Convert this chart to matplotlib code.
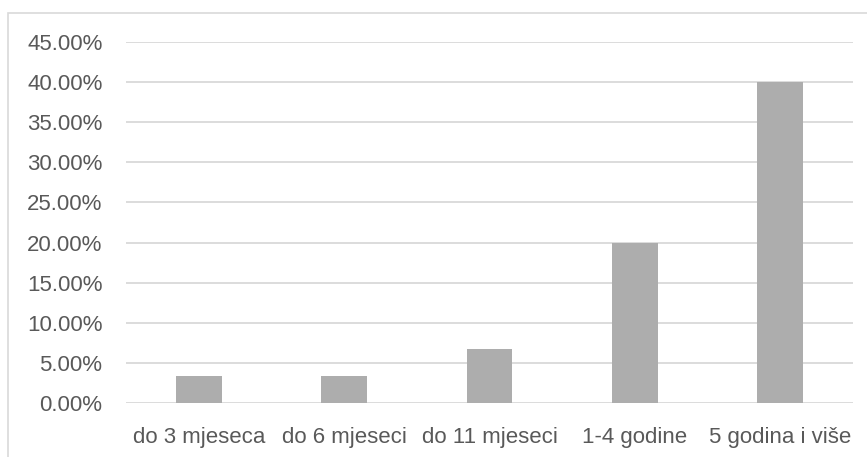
import matplotlib
matplotlib.use("Agg")
import matplotlib.pyplot as plt
from matplotlib.patches import Rectangle
from matplotlib.ticker import FuncFormatter

# podaci
kategorije = ["do 3 mjeseca", "do 6 mjeseci", "do 11 mjeseci", "1-4 godine", "5 godina i više"]
udjeli = [0.0333, 0.0333, 0.0667, 0.20, 0.40]
y_ticks = [0.0, 0.05, 0.10, 0.15, 0.20, 0.25, 0.30, 0.35, 0.40, 0.45]

plt.rcParams["font.family"] = ["Liberation Sans", "DejaVu Sans"]

fig = plt.figure(figsize=(8.67, 4.57), dpi=100)
# okvir grafikona
fig.patches.append(Rectangle((8 / 867, -0.01), 1.0, 1 - 13 / 457 + 0.01,
                             transform=fig.transFigure, fill=False,
                             edgecolor="#d9d9d9", linewidth=1.2))

ax = fig.add_axes([126 / 867, 1 - 403 / 457, (853 - 126) / 867, (403 - 42) / 457])
x = range(len(kategorije))
ax.bar(x, udjeli, width=0.316, color="#adadad", zorder=3)

ax.set_xlim(-0.5, len(kategorije) - 0.5)
ax.set_ylim(0, 0.45)
ax.set_yticks(y_ticks)
ax.yaxis.set_major_formatter(FuncFormatter(lambda v, p: f"{v * 100:.2f}%"))
ax.set_xticks(list(x))
ax.set_xticklabels(kategorije)

ax.grid(axis="y", color="#d9d9d9", linewidth=1.3, zorder=0)
for s in ax.spines.values():
    s.set_visible(False)
ax.tick_params(axis="both", length=0, colors="#595959", labelsize=16)
ax.tick_params(axis="y", pad=17)
ax.tick_params(axis="x", pad=17)

fig.savefig("out.png", dpi=100)
